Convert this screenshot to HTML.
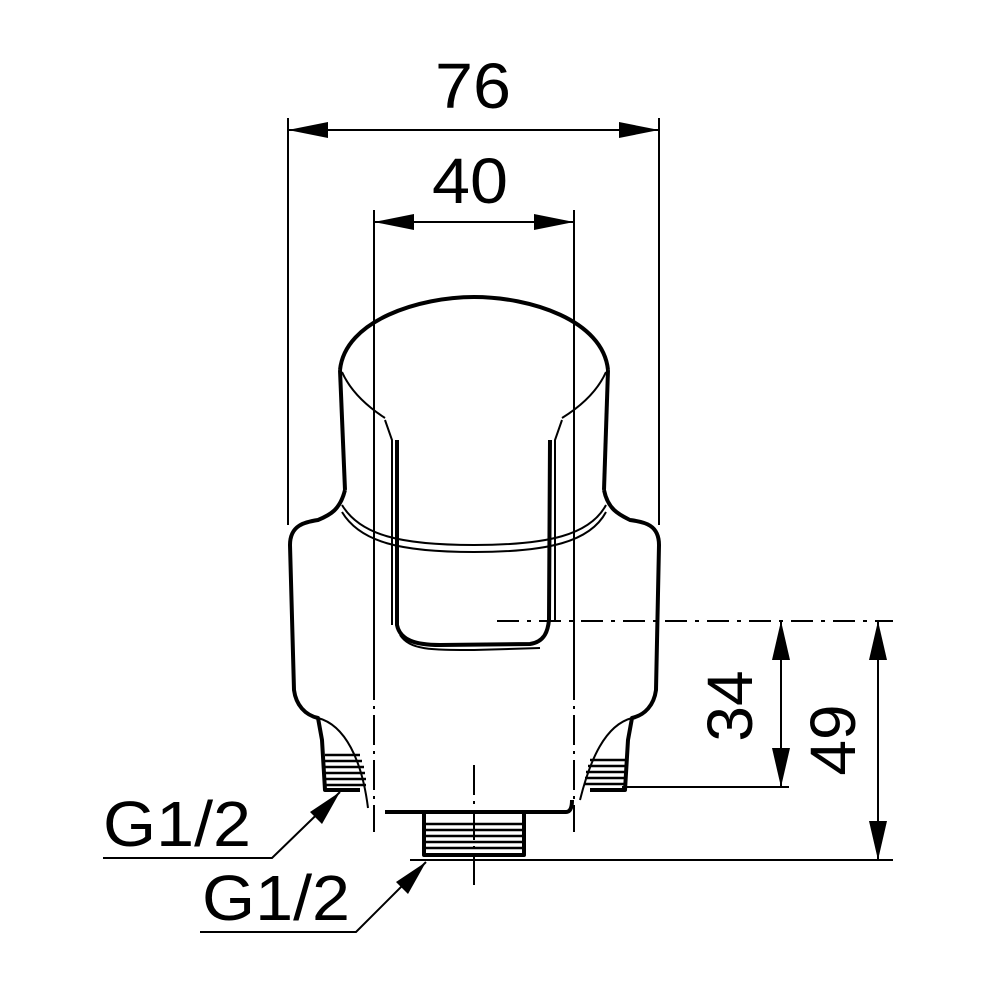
<!DOCTYPE html>
<html><head><meta charset="utf-8"><style>html,body{margin:0;padding:0;background:#fff}svg{display:block}</style></head>
<body>
<svg width="1000" height="1000" viewBox="0 0 1000 1000" xmlns="http://www.w3.org/2000/svg" font-family="Liberation Sans, sans-serif">
<g fill="none" stroke="#000" stroke-width="2">
<line x1="288" y1="118" x2="288" y2="525"/>
<line x1="659" y1="118" x2="659" y2="525"/>
<line x1="288" y1="130" x2="659" y2="130"/>
<line x1="374" y1="210" x2="374" y2="670"/>
<line x1="574" y1="210" x2="574" y2="670"/>
<line x1="374" y1="222" x2="574" y2="222"/>
<line x1="374" y1="670" x2="374" y2="832" stroke-dasharray="30,6,3,6"/>
<line x1="574" y1="670" x2="574" y2="832" stroke-dasharray="30,6,3,6"/>
<line x1="474" y1="765" x2="474" y2="888" stroke-dasharray="30,6,3,6"/>
<line x1="497" y1="621" x2="893" y2="621" stroke-dasharray="22,8,4,8"/>
<line x1="622" y1="787" x2="789" y2="787"/>
<line x1="410" y1="860" x2="893" y2="860"/>
<line x1="781" y1="621" x2="781" y2="787"/>
<line x1="878" y1="621" x2="878" y2="860"/>
<polyline points="103,858 272,858 340,792"/>
<polyline points="200,932 356,932 426,862"/>
</g>
<g fill="#000">
<polygon points="288,130 328,122 328,138"/>
<polygon points="659,130 619,122 619,138"/>
<polygon points="374,222 414,214 414,230"/>
<polygon points="574,222 534,214 534,230"/>
<polygon points="781,621 772,660 790,660"/>
<polygon points="781,787 772,748 790,748"/>
<polygon points="878,621 869,660 887,660"/>
<polygon points="878,860 869,821 887,821"/>
<polygon points="340,792 310,812 322,824"/>
<polygon points="426,862 396,882 408,894"/>
</g>
<g fill="none" stroke="#000" stroke-width="4" stroke-linejoin="round">
<path d="M340,370 C345,320 420,297 474,297 C530,297 603,320 608,370"/>
<path d="M340,370 L345,490"/>
<path d="M608,370 L604,490"/>
<path d="M345,490 C340,510 330,515 318,520 C305,522 290,525 290,545 L294,690 C296,705 305,715 318,718 L322,740 L325,790 L360,790"/>
<path d="M604,490 C608,510 620,515 630,520 C645,522 659,525 659,545 L656,690 C654,705 645,715 632,718 L628,740 L625,790 L590,790"/>
<path d="M385,812 L566,812 C570,812 572,808 572,800"/>
<path d="M424,812 L424,855 L524,855 L524,812"/>
<path d="M397,440 L397,625 C400,640 415,645 440,645 L530,644 C545,642 548,630 549,620 L550,440"/>
</g>
<g fill="none" stroke="#000" stroke-width="2">
<path d="M342,372 C350,390 365,405 385,418"/>
<path d="M606,372 C598,390 583,405 562,418"/>
<path d="M342,505 C360,535 400,545 474,545 C548,545 590,535 606,505"/>
<path d="M342,512 C360,542 400,552 474,552 C548,552 590,542 606,512"/>
<path d="M385,420 L392,440 L392,625"/>
<path d="M562,420 L555,440 L555,620"/>
<path d="M400,635 C410,650 430,650 474,650 L540,648"/>
<path d="M318,718 C345,725 362,760 368,808"/>
<path d="M632,718 C605,725 590,760 580,800"/>
</g>
<g stroke="#000" stroke-width="2.5">
<line x1="325" y1="755" x2="360" y2="755"/><line x1="325" y1="761" x2="362" y2="761"/>
<line x1="325" y1="767" x2="364" y2="767"/><line x1="325" y1="773" x2="365" y2="773"/>
<line x1="325" y1="779" x2="366" y2="779"/><line x1="325" y1="785" x2="366" y2="785"/>
<line x1="590" y1="760" x2="625" y2="760"/><line x1="588" y1="766" x2="625" y2="766"/>
<line x1="586" y1="772" x2="625" y2="772"/><line x1="585" y1="778" x2="625" y2="778"/>
<line x1="584" y1="784" x2="625" y2="784"/>
<line x1="424" y1="824" x2="524" y2="824"/><line x1="424" y1="830" x2="524" y2="830"/>
<line x1="424" y1="836" x2="524" y2="836"/><line x1="424" y1="842" x2="524" y2="842"/>
<line x1="424" y1="848" x2="524" y2="848"/>
</g>
<g font-size="64" fill="#000">
<text x="473" y="108" text-anchor="middle" textLength="76" lengthAdjust="spacingAndGlyphs">76</text>
<text x="470" y="203" text-anchor="middle" textLength="76" lengthAdjust="spacingAndGlyphs">40</text>
<text x="103" y="846" textLength="148" lengthAdjust="spacingAndGlyphs">G1/2</text>
<text x="202" y="920" textLength="148" lengthAdjust="spacingAndGlyphs">G1/2</text>
<text transform="translate(752,706) rotate(-90)" text-anchor="middle">34</text>
<text transform="translate(855,740) rotate(-90)" text-anchor="middle">49</text>
</g>
</svg>
</body></html>
